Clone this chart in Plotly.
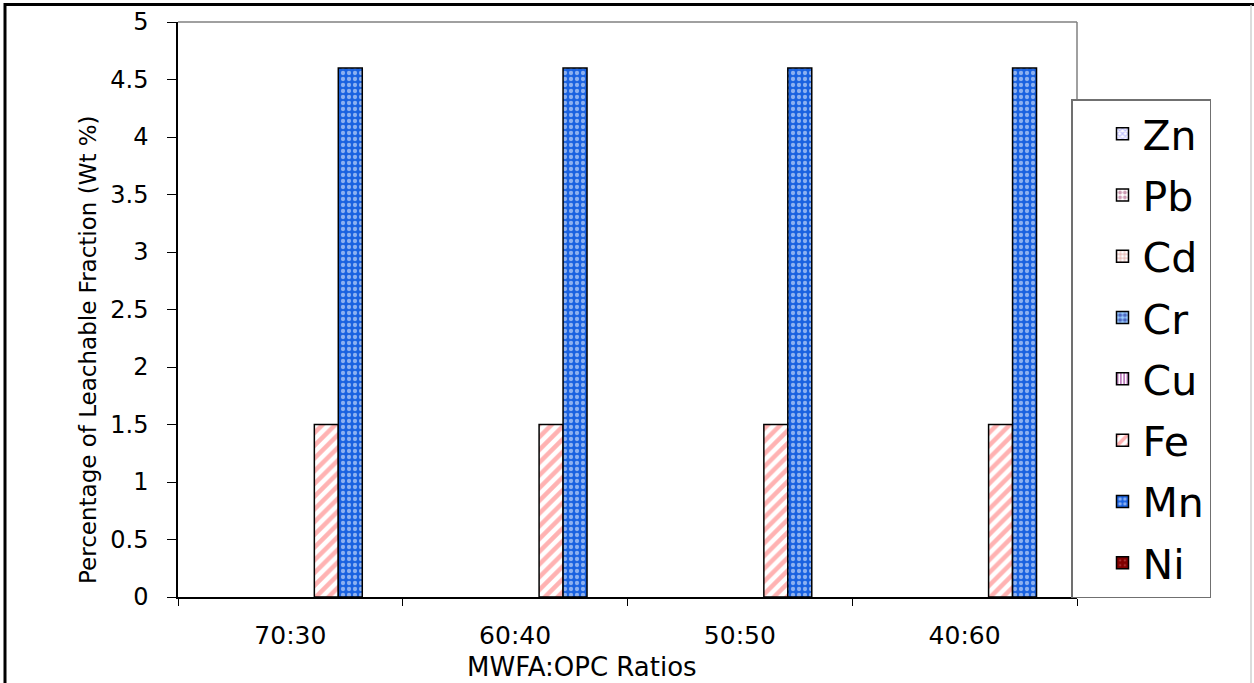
import plotly.graph_objects as go

# ---- data ----
categories = ["70:30", "60:40", "50:50", "40:60"]
elements = ["Zn", "Pb", "Cd", "Cr", "Cu", "Fe", "Mn", "Ni"]
zn = [0, 0, 0, 0]
pb = [0, 0, 0, 0]
cd = [0, 0, 0, 0]
cr = [0, 0, 0, 0]
cu = [0, 0, 0, 0]
fe = [1.5, 1.5, 1.5, 1.5]
mn = [4.6, 4.6, 4.6, 4.6]
ni = [0, 0, 0, 0]
series = [zn, pb, cd, cr, cu, fe, mn, ni]

x_title = "MWFA:OPC Ratios"
y_title = "Percentage of Leachable Fraction (Wt %)"

# ---- styles ----
patterns = {
    "Zn": dict(shape="x", fgcolor="#8080FF", bgcolor="#FFFFFF", size=5, solidity=0.5),
    "Pb": dict(shape=".", fgcolor="#993366", bgcolor="#FFFFFF", size=6, solidity=0.5),
    "Cd": dict(shape="+", fgcolor="#C0392B", bgcolor="#FFFFFF", size=5, solidity=0.35),
    "Cr": dict(shape=".", fgcolor="#000080", bgcolor="#99CCFF", size=6, solidity=0.55),
    "Cu": dict(shape="|", fgcolor="#800080", bgcolor="#FFFFFF", size=4, solidity=0.5),
    "Fe": dict(shape="/", fgcolor="#FF6666", bgcolor="#FFFFFF", size=9, solidity=0.5),
    "Mn": dict(shape=".", fgcolor="#FFFFFF", bgcolor="#1A62E0", size=6, solidity=0.4),
    "Ni": dict(shape=".", fgcolor="#FF9999", bgcolor="#800000", size=6, solidity=0.1),
}

FONT = "DejaVu Sans, Arial, sans-serif"


def marker_style(name, line_width):
    p = patterns[name]
    return dict(color=p["bgcolor"],
                line=dict(color="black", width=line_width),
                pattern=dict(shape=p["shape"], fgcolor=p["fgcolor"],
                             bgcolor=p["bgcolor"], size=p["size"],
                             solidity=p["solidity"], fillmode="overlay"))


fig = go.Figure()
# data bars (zero-valued bars get no outline, as in the original chart)
for name, vals in zip(elements, series):
    fig.add_trace(go.Bar(
        name=name, x=categories, y=vals, showlegend=False,
        marker=marker_style(name, [1.5 if v else 0 for v in vals]),
    ))
# legend keys (no data, on a hidden overlay axis so they do not affect grouping)
for i, name in enumerate(elements):
    fig.add_trace(go.Bar(
        name=name, x=[None], y=[None], xaxis="x2", yaxis="y2",
        legendgroup=f"g{i}", showlegend=True, hoverinfo="skip",
        marker=marker_style(name, 1.5),
    ))

W, H = 1254, 683
L, R, T, B = 178, 177, 22, 86
pw, ph = W - L - R, H - T - B

def px_x(x):
    return (x - L) / pw

def px_y(y):
    return (H - B - y) / ph

fig.update_layout(
    width=W, height=H,
    margin=dict(l=L, r=R, t=T, b=B, autoexpand=False),
    paper_bgcolor="white", plot_bgcolor="white",
    barmode="group", bargap=0.147, bargroupgap=0,
    font=dict(family=FONT, color="black"),
    showlegend=True,
    legend=dict(
        x=px_x(1071), y=px_y(99), xanchor="left", yanchor="top",
        bordercolor="#707070", borderwidth=1.5, bgcolor="white",
        font=dict(size=41, family=FONT, color="black"),
        indentation=30, traceorder="grouped", tracegroupgap=5,
    ),
    xaxis=dict(
        showline=True, linecolor="black", linewidth=1.5,
        ticks="outside", tickson="boundaries", ticklen=7, tickcolor="black",
        tickfont=dict(size=25, family=FONT), ticklabelstandoff=15,
        showgrid=False, zeroline=False,
    ),
    yaxis=dict(
        range=[0, 5], dtick=0.5, tick0=0,
        showline=True, linecolor="black", linewidth=1.5,
        ticks="outside", ticklen=9, tickcolor="black",
        tickfont=dict(size=24, family=FONT), ticklabelstandoff=14,
        showgrid=False, zeroline=False,
    ),
    xaxis2=dict(overlaying="x", visible=False),
    yaxis2=dict(overlaying="y", visible=False),
    annotations=[
        dict(text=x_title, xref="paper", yref="paper", x=px_x(582), y=px_y(667),
             xanchor="center", yanchor="middle", showarrow=False,
             font=dict(size=26, family=FONT, color="black")),
        dict(text=y_title, xref="paper", yref="paper", x=px_x(88), y=px_y(350),
             xanchor="center", yanchor="middle", showarrow=False, textangle=-90,
             font=dict(size=23, family=FONT, color="black")),
    ],
    shapes=[
        # plot area frame (top, right) in gray
        dict(type="line", xref="paper", yref="paper", x0=0, x1=1, y0=1, y1=1,
             line=dict(color="#808080", width=1.5)),
        dict(type="line", xref="paper", yref="paper", x0=1, x1=1, y0=0, y1=1,
             line=dict(color="#808080", width=1.5)),
        # outer picture frame
        dict(type="line", xref="paper", yref="paper", x0=px_x(5), x1=px_x(5),
             y0=px_y(H), y1=px_y(3), line=dict(color="black", width=3)),
        dict(type="line", xref="paper", yref="paper", x0=px_x(4), x1=px_x(W),
             y0=px_y(4.5), y1=px_y(4.5), line=dict(color="black", width=3)),
        dict(type="line", xref="paper", yref="paper", x0=px_x(1251), x1=px_x(1251),
             y0=px_y(H), y1=px_y(5), line=dict(color="#D0D0D0", width=1.5)),
    ],
)

fig.write_html("out.html", config={"displayModeBar": False},
               post_script="document.body.style.margin='0';document.body.style.overflow='hidden';")
